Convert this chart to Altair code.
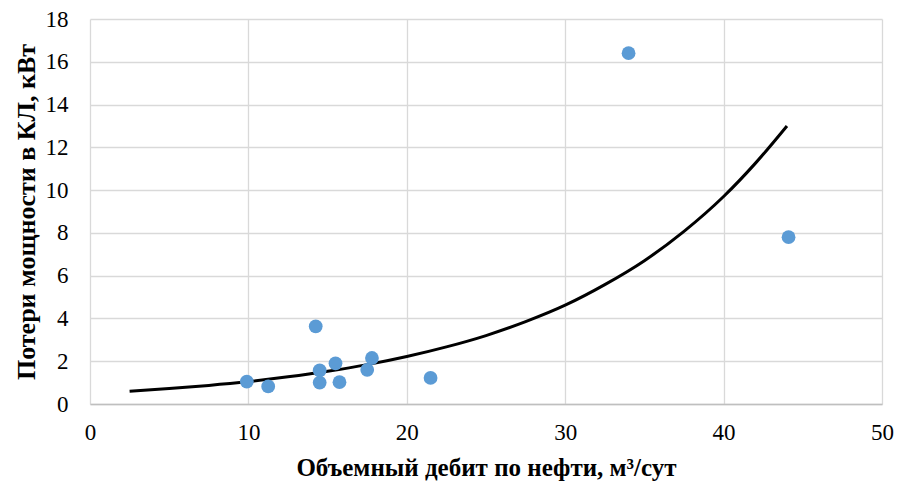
import altair as alt
import pandas as pd

# Scatter data
flow = [9.9, 11.25, 14.25, 14.5, 14.5, 15.5, 15.75, 17.5, 17.8, 21.5, 34.0, 44.1]
loss = [1.05, 0.82, 3.63, 1.57, 1.0, 1.9, 1.02, 1.6, 2.15, 1.22, 16.4, 7.8]

# Trend line points
trend_x = [2.5, 5, 7.5, 10, 12.5, 15, 17.5, 20, 22.5, 25, 27.5, 30, 32.5, 35, 37.5, 40, 42, 44]
trend_y = [0.6, 0.72, 0.87, 1.05, 1.27, 1.53, 1.84, 2.22, 2.67, 3.2, 3.85, 4.62, 5.58, 6.7, 8.07, 9.7, 11.25, 13.0]

pts = pd.DataFrame({"x": flow, "y": loss})
tr = pd.DataFrame({"x": trend_x, "y": trend_y})

FONT = "Liberation Serif"

xscale = alt.Scale(domain=[0, 50], nice=False)
yscale = alt.Scale(domain=[0, 18], nice=False)

xaxis = alt.Axis(
    title="Объемный дебит по нефти, м³/сут",
    values=[0, 10, 20, 30, 40, 50],
    grid=True, gridColor="#d9d9d9", gridWidth=1.3,
    domainColor="#bfbfbf", domainWidth=1.5,
    ticks=False, labelPadding=17, labelFlush=False,
    labelFont=FONT, labelFontSize=23, labelColor="#000000",
    titleFont=FONT, titleFontSize=25, titleFontWeight="bold", titleColor="#000000",
    titlePadding=11,
)
yaxis = alt.Axis(
    title="Потери мощности в КЛ, кВт",
    values=[0, 2, 4, 6, 8, 10, 12, 14, 16, 18],
    grid=True, gridColor="#d9d9d9", gridWidth=1.3,
    domain=False,
    ticks=False, labelPadding=22, labelFlush=False,
    labelFont=FONT, labelFontSize=23, labelColor="#000000",
    titleFont=FONT, titleFontSize=26, titleFontWeight="bold", titleColor="#000000",
    titlePadding=6,
)

scatter = alt.Chart(pts).mark_circle(size=190, color="#5B9BD5", opacity=1).encode(
    x=alt.X("x:Q", scale=xscale, axis=xaxis),
    y=alt.Y("y:Q", scale=yscale, axis=yaxis),
)

line = alt.Chart(tr).mark_line(color="#000000", strokeWidth=3, interpolate="monotone").encode(
    x=alt.X("x:Q", scale=xscale),
    y=alt.Y("y:Q", scale=yscale),
)

chart = alt.layer(line, scatter).properties(
    width=792,
    height=385,
    autosize=alt.AutoSizeParams(type="none"),
    padding={"left": 90, "top": 19, "right": 19, "bottom": 85},
    background="#ffffff",
).configure_view(stroke=None)

chart.save("out.html", embed_options={"renderer": "svg", "actions": False})
